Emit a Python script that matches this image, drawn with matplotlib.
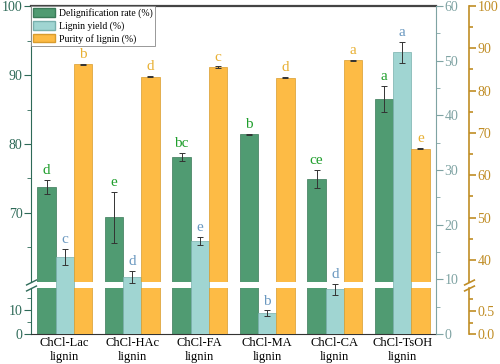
import matplotlib.pyplot as plt
import numpy as np
from matplotlib.patches import Patch

plt.rcParams['font.family'] = ['Liberation Serif', 'DejaVu Serif']

# data
categories = ['ChCl-Lac\nlignin', 'ChCl-HAc\nlignin', 'ChCl-FA\nlignin',
              'ChCl-MA\nlignin', 'ChCl-CA\nlignin', 'ChCl-TsOH\nlignin']
delig = [73.8, 69.4, 78.1, 81.4, 74.9, 86.5]
delig_err = [1.0, 3.7, 0.6, 0.1, 1.3, 1.9]
lig_yield = [14.1, 10.5, 17.0, 3.8, 8.2, 51.5]
lig_yield_err = [1.4, 1.1, 0.7, 0.5, 1.0, 2.0]
purity = [86.2, 83.3, 85.6, 83.1, 87.2, 66.3]
purity_err = [0.15, 0.15, 0.15, 0.15, 0.15, 0.15]
delig_letters = ['d', 'e', 'bc', 'b', 'ce', 'a']
yield_letters = ['c', 'd', 'e', 'b', 'd', 'a']
purity_letters = ['b', 'd', 'c', 'd', 'a', 'e']

green, green_edge, green_txt = '#509b72', '#3a7a58', '#1f9e2c'
teal, teal_edge, teal_txt = '#a0d5d2', '#78b0ad', '#6a98c0'
orange, orange_edge, orange_txt = '#fdbb45', '#d99c2e', '#e8b033'
left_col = '#2e6a58'
teal_axis = '#7fa3a3'
orange_axis = '#c08d25'

x = np.arange(1, len(categories) + 1)
w = 0.27

fig = plt.figure(figsize=(5, 3.64), dpi=100)
L, W = 0.062, 0.81
ax_top = fig.add_axes([L, 0.2253, W, 0.7582])
ax_bot = fig.add_axes([L, 0.0824, W, 0.1264])
ax_teal = fig.add_axes([L, 0.0824, W, 0.9011])
ax_teal.patch.set_alpha(0)
ax_or_top = ax_top.twinx()
ax_or_bot = ax_bot.twinx()

for a in (ax_top, ax_bot, ax_teal, ax_or_top, ax_or_bot):
    a.set_xlim(0.5, 6.5)

# green bars on the broken left axis
ax_top.bar(x - w, delig, w, color=green, edgecolor=green_edge, lw=0.5)
ax_bot.bar(x - w, delig, w, color=green, edgecolor=green_edge, lw=0.5)
ax_top.errorbar(x - w, delig, yerr=delig_err, fmt='none', ecolor='#333333',
                elinewidth=0.7, capsize=2.5, capthick=0.7)
ax_top.set_ylim(60, 100)
ax_bot.set_ylim(0, 19.2)

# teal bars on the continuous axis
ax_teal.bar(x, lig_yield, w, color=teal, edgecolor=teal_edge, lw=0.5)
ax_teal.errorbar(x, lig_yield, yerr=lig_yield_err, fmt='none', ecolor='#333333',
                 elinewidth=0.7, capsize=2.5, capthick=0.7)
ax_teal.set_ylim(0, 60)

# orange bars on the broken outer right axis
ax_or_top.bar(x + w, purity, w, color=orange, edgecolor=orange_edge, lw=0.5)
ax_or_bot.bar(x + w, purity, w, color=orange, edgecolor=orange_edge, lw=0.5)
ax_or_top.errorbar(x + w, purity, yerr=purity_err, fmt='none', ecolor='#333333',
                   elinewidth=0.7, capsize=2.5, capthick=0.7)
ax_or_top.set_ylim(34.8, 100)
ax_or_bot.set_ylim(0, 1.0)

# letters above bars
for i in range(len(x)):
    ax_top.annotate(delig_letters[i], (x[i] - w, delig[i] + delig_err[i]),
                    xytext=(0, 2), textcoords='offset points', ha='center',
                    va='bottom', color=green_txt, fontsize=11)
    ax_teal.annotate(yield_letters[i], (x[i], lig_yield[i] + lig_yield_err[i]),
                     xytext=(0, 2), textcoords='offset points', ha='center',
                     va='bottom', color=teal_txt, fontsize=11)
    ax_or_top.annotate(purity_letters[i], (x[i] + w, purity[i] + purity_err[i]),
                       xytext=(0, 2), textcoords='offset points', ha='center',
                       va='bottom', color=orange_txt, fontsize=11)

# spines
for a in (ax_top, ax_bot, ax_teal, ax_or_top, ax_or_bot):
    for s in a.spines.values():
        s.set_visible(False)
ax_top.spines['left'].set_visible(True)
ax_top.spines['left'].set_color(left_col)
ax_top.spines['top'].set_visible(True)
ax_top.spines['top'].set_color('#444444')
ax_top.spines['top'].set_linewidth(1.6)
ax_bot.spines['left'].set_visible(True)
ax_bot.spines['left'].set_color(left_col)
ax_bot.spines['bottom'].set_visible(True)
ax_bot.spines['bottom'].set_color('#333333')
ax_teal.spines['right'].set_visible(True)
ax_teal.spines['right'].set_color(teal_axis)
off = 1 + 33 / 405
for a in (ax_or_top, ax_or_bot):
    a.spines['right'].set_visible(True)
    a.spines['right'].set_position(('axes', off))
    a.spines['right'].set_color(orange_axis)
    a.spines['right'].set_linewidth(1.2)

# ticks
ax_top.set_xticks([])
ax_teal.set_xticks([])
ax_or_top.set_xticks([])
ax_bot.set_xticks(x)
ax_bot.set_xticklabels(categories, fontsize=9, linespacing=1.3)
ax_bot.tick_params(axis='x', length=0, pad=2)

ax_top.set_yticks([70, 80, 90, 100])
ax_top.set_yticks([65, 75, 85, 95], minor=True)
ax_bot.set_yticks([0, 10])
ax_bot.set_yticks([5, 15], minor=True)
for a in (ax_top, ax_bot):
    a.tick_params(axis='y', which='major', length=5, color=left_col,
                  labelcolor=left_col, labelsize=10, pad=1)
    a.tick_params(axis='y', which='minor', length=3, color=left_col)

ax_teal.yaxis.tick_right()
ax_teal.set_yticks(np.arange(0, 61, 10))
ax_teal.set_yticks(np.arange(5, 60, 10), minor=True)
ax_teal.tick_params(axis='y', which='major', length=5, color=teal_axis,
                    labelcolor=teal_axis, labelsize=10, pad=1)
ax_teal.tick_params(axis='y', which='minor', length=3, color=teal_axis)

ax_or_top.set_yticks(np.arange(40, 101, 10))
ax_or_top.set_yticks(np.arange(45, 100, 10), minor=True)
ax_or_bot.set_yticks([0.0, 0.5])
ax_or_bot.set_yticks([0.25, 0.75], minor=True)
ax_or_bot.set_yticklabels(['0.0', '0.5'])
for a in (ax_or_top, ax_or_bot):
    a.tick_params(axis='y', which='major', length=5, width=1.2, color=orange_axis,
                  labelcolor=orange_axis, labelsize=10, pad=1)
    a.tick_params(axis='y', which='minor', length=3, width=1.2, color=orange_axis)

# break marks
kw = dict(marker=[(-1, -0.5), (1, 0.5)], markersize=8, linestyle='none',
          mec=left_col, mew=1.0, clip_on=False)
ax_top.plot([0], [0], transform=ax_top.transAxes, **kw)
ax_bot.plot([0], [1], transform=ax_bot.transAxes, **kw)
kw.update(mec=orange_axis, mew=1.2)
ax_or_top.plot([off], [0], transform=ax_or_top.transAxes, **kw)
ax_or_bot.plot([off], [1], transform=ax_or_bot.transAxes, **kw)

handles = [Patch(facecolor=green, edgecolor=green_edge, label='Delignification rate (%)'),
           Patch(facecolor=teal, edgecolor=teal_edge, label='Lignin yield (%)'),
           Patch(facecolor=orange, edgecolor=orange_edge, label='Purity of lignin (%)')]
leg = ax_teal.legend(handles=handles, loc='upper left', fontsize=7, frameon=True,
                     fancybox=False, framealpha=1, edgecolor='#888888',
                     borderaxespad=0, borderpad=0.2, labelspacing=0.3,
                     handlelength=2.3, handleheight=1.0, handletextpad=0.4)
leg.get_frame().set_linewidth(0.6)

fig.savefig('out.png', dpi=100)
